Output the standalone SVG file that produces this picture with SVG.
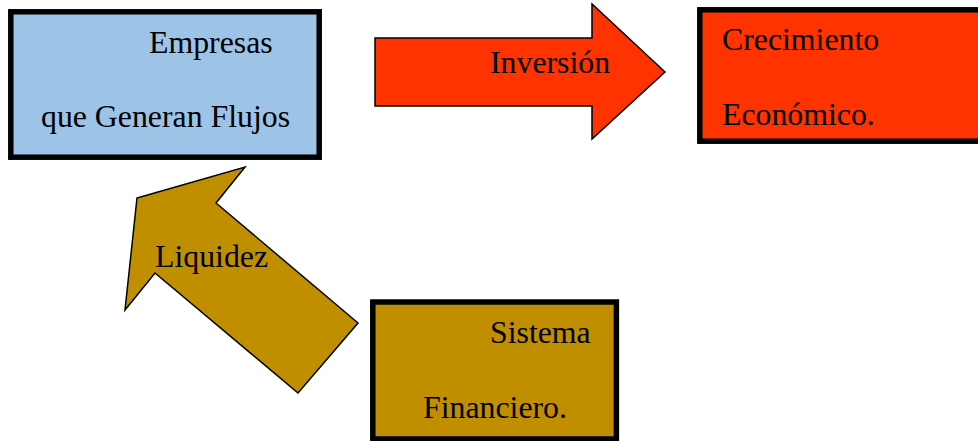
<svg xmlns="http://www.w3.org/2000/svg" width="978" height="441" viewBox="0 0 978 441">
<style>
.box{stroke:#000;stroke-width:5.5}
.arr{stroke:#000;stroke-width:1.5;stroke-linejoin:miter}
text{font-family:"Liberation Serif","Times New Roman",serif;font-size:31.8px;fill:#000}
</style>
<rect width="978" height="441" fill="#fff"/>
<g id="connectors">
<g id="inversion">
<polygon class="arr" fill="#FF3300" points="375,38 592,38 592,4 665,72 592,139 592,106 375,106"/>
<text x="490" y="73">Inversión</text>
</g>
<g id="liquidez">
<polygon class="arr" fill="#BF8F00" points="137,198 245,167 216,203 358,323 298,393 155,273 125,310"/>
<text x="155" y="267">Liquidez</text>
</g>
</g>
<g id="empresas">
<rect class="box" fill="#9DC3E6" x="10.8" y="11.8" width="308.4" height="145.4"/>
<text x="149" y="53">Empresas</text>
<text x="41" y="127">que Generan Flujos</text>
</g>
<g id="crecimiento">
<rect class="box" fill="#FF3300" x="699.8" y="9.8" width="290" height="131.4"/>
<text x="722" y="50">Crecimiento</text>
<text x="722" y="125">Económico.</text>
</g>
<g id="sistema">
<rect class="box" fill="#BF8F00" x="372.8" y="302" width="243.6" height="137"/>
<text x="490" y="343">Sistema</text>
<text x="423" y="418">Financiero.</text>
</g>
</svg>
